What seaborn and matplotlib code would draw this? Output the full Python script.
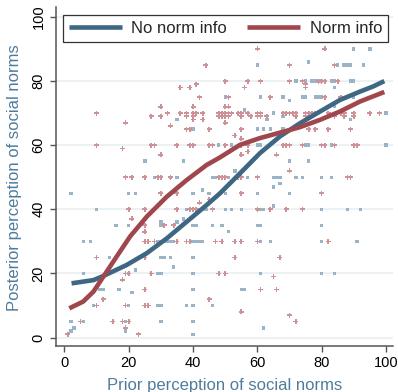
import numpy as np
import pandas as pd
import matplotlib
matplotlib.use('Agg')
import matplotlib.pyplot as plt
import seaborn as sns

# ========= Data ====================================
# individual answers, group without norm information (squares)
no_info_pts = [
    (2, 45), (20, 45), (22, 45), (10, 40), (16, 35), (20, 35), (30, 36), (30, 35),
    (6, 30), (8, 30), (29, 30), (30, 30), (31, 30), (32, 30), (33, 30),
    (14, 25), (30, 25), (31, 25), (33, 25), (22, 21), (6, 20), (20, 20), (29, 20), (30, 20),
    (11, 15), (12, 15), (17, 15), (21, 14), (9, 10), (20, 10), (29, 10), (30, 10),
    (2, 5), (6, 5), (19, 5), (30, 5), (3, 3), (2, 2), (19, 2),
    (40, 45), (43, 46), (45, 45), (50, 45), (60, 45), (65, 47),
    (38, 40), (44, 40), (50, 40), (52, 40), (55, 40), (60, 40), (61, 40), (62, 40), (65, 41),
    (35, 36), (37, 37), (40, 35), (41, 35), (46, 35), (49, 35), (60, 35), (61, 35), (51, 33),
    (34, 30), (40, 30), (41, 30), (42, 30), (43, 30), (61, 30), (64, 30),
    (40, 25), (34, 22), (40, 20), (61, 20), (40, 15), (55, 15), (56, 15),
    (38, 10), (40, 10), (46, 10), (40, 5), (62, 3), (40, 1),
    (70, 45), (80, 40), (88, 40), (92, 40), (80, 35), (80, 30), (91, 30), (80, 20), (84, 20),
    (25, 55), (37, 55), (53, 52), (28, 50), (33, 50), (35, 50), (46, 50), (47, 50), (51, 50),
    (57, 50), (65, 50), (66, 50), (67, 50), (67, 48),
    (72, 50), (74, 50), (80, 50), (83, 50), (70, 55), (76, 55),
    (48, 60), (52, 60), (60, 60), (61, 60), (75, 60), (76, 60), (83, 60), (100, 60),
    (40, 65), (60, 65), (62, 65), (64, 65), (68, 65),
    (35, 68), (63, 68), (89, 68), (68, 69), (65, 70), (56, 71), (100, 70),
    (50, 75), (61, 75), (68, 75), (74, 75), (75, 75), (78, 75), (79, 75), (80, 75), (90, 75),
    (70, 74), (84, 72), (84, 78),
    (72, 80), (75, 80), (77, 80), (78, 80), (79, 80), (80, 80), (83, 80), (84, 80), (89, 80), (90, 80),
    (60, 85), (76, 86), (85, 85), (87, 85), (88, 85), (89, 85), (93, 85), (90, 90), (95, 90),
]

# individual answers, group with norm information (small crosses)
info_pts = [
    (1, 1), (23, 1), (19, 3), (5, 5), (15, 5), (18, 5), (20, 5), (10, 10), (19, 10), (25, 10),
    (26, 10), (12, 12), (25, 15), (18, 18), (19, 20), (20, 20), (27, 20), (10, 25), (25, 25),
    (25, 30), (26, 30), (28, 30), (25, 33), (25, 35), (31, 35), (21, 37), (20, 40), (25, 40),
    (30, 45), (35, 45), (55, 45), (80, 45),
    (34, 35), (35, 40), (39, 40), (40, 40), (41, 40), (46, 40), (60, 40), (64, 40), (69, 40),
    (74, 40), (42, 42), (45, 43),
    (35, 30), (38, 30), (39, 30), (47, 30), (49, 30), (53, 30), (55, 30), (60, 30), (82, 30),
    (53, 25), (67, 25), (48, 20), (50, 20), (65, 19), (61, 15), (66, 15), (45, 12), (55, 8),
    (70, 7), (72, 5),
    (10, 70), (10, 60), (19, 67), (18, 59), (30, 72), (27, 69), (30, 69), (32, 70), (33, 66),
    (27, 60), (28, 60), (30, 57),
    (19, 50), (21, 50), (25, 50), (29, 50), (30, 50),
    (60, 90), (81, 90), (44, 85), (70, 85), (84, 85),
    (50, 80), (57, 80), (61, 80), (70, 80), (74, 80), (79, 80), (80, 80), (81, 80), (85, 80),
    (41, 79), (75, 79), (36, 78), (39, 78), (56, 78), (75, 78),
    (42, 75), (51, 75), (64, 75), (81, 75), (86, 75), (40, 72), (50, 72), (51, 72),
    (36, 70), (38, 70), (40, 70), (41, 70), (43, 70), (48, 70), (49, 70), (50, 70), (51, 70),
    (52, 70), (54, 70), (55, 70), (57, 70), (60, 70), (61, 70), (68, 70), (69, 70), (70, 70),
    (71, 70), (72, 70), (75, 70), (76, 70), (77, 70), (78, 70), (82, 70), (86, 70), (87, 70),
    (90, 70), (95, 70), (98, 70),
    (38, 69), (40, 69), (48, 69), (49, 69), (50, 69), (51, 69), (55, 69), (58, 69), (60, 69),
    (61, 69), (63, 69), (72, 69), (75, 69), (84, 69), (87, 69), (90, 69),
    (40, 68), (43, 68), (50, 67),
    (38, 65), (39, 65), (45, 65), (55, 65), (76, 65), (78, 65), (82, 65), (89, 65),
    (53, 63), (55, 62),
    (35, 60), (39, 60), (40, 60), (45, 60), (46, 60), (50, 60), (55, 60), (57, 60), (68, 60),
    (69, 60), (70, 60), (74, 60), (80, 60), (81, 60), (84, 60), (90, 60), (91, 60),
    (57, 58), (55, 57), (66, 57), (70, 52),
    (33, 50), (48, 50), (49, 50), (50, 50), (54, 50), (55, 50), (60, 50), (88, 50), (89, 50),
]

# smoothed (lowess) curves
no_info_curve_x = [2.2, 9, 12.1, 19.3, 25.6, 31.8, 38, 44.2, 48.4, 54.6, 60.8, 67, 73.2,
                   79.5, 85.7, 91.9, 96, 99.5]
no_info_curve_y = [16.9, 17.9, 19.2, 22.6, 26.3, 30.9, 36.1, 41.3, 45, 51.2, 57.5, 62.7, 66.8,
                   70.5, 74.1, 76.7, 78.3, 80]
info_curve_x = [1.5, 5.8, 9, 12.1, 16.2, 20.4, 25.6, 31.8, 38, 44.2, 48.4, 54.6, 60.8, 67,
                73.2, 79.5, 85.7, 91.9, 99.5]
info_curve_y = [9.1, 11.2, 14.3, 19, 25.2, 31.5, 37.7, 43.9, 49.1, 53.8, 56.2, 60.1, 62.2, 63.9,
                65.6, 67.9, 70.5, 73.6, 76.6]

labels = ['No norm info', 'Norm info']
x_ticks = [0, 20, 40, 60, 80, 100]
y_ticks = [0, 20, 40, 60, 80, 100]

# ========= Styles ==============
blue_line = '#3d6783'
red_line = '#a0474d'
blue_pt = '#9bb3c6'
red_pt = '#cc9298'
label_col = '#4f7c9c'

sns.set_theme(style='white')
plt.rcParams['font.family'] = ['Liberation Sans', 'DejaVu Sans']

df_a = pd.DataFrame(no_info_pts, columns=['prior', 'posterior'])
df_b = pd.DataFrame(info_pts, columns=['prior', 'posterior'])

fig = plt.figure(figsize=(3.98, 3.92), dpi=100)
ax = fig.add_axes([56 / 398, 46 / 392, 337 / 398, 339 / 392])

sns.scatterplot(data=df_a, x='prior', y='posterior', ax=ax, marker='s', s=6,
                color=blue_pt, edgecolor='none', linewidth=0, zorder=2)
sns.scatterplot(data=df_b, x='prior', y='posterior', ax=ax, marker='P', s=13,
                color=red_pt, edgecolor='none', linewidth=0, zorder=2)

sns.lineplot(x=no_info_curve_x, y=no_info_curve_y, ax=ax, color=blue_line,
             linewidth=3.3, label=labels[0], zorder=4, solid_capstyle='butt')
sns.lineplot(x=info_curve_x, y=info_curve_y, ax=ax, color=red_line,
             linewidth=3.3, label=labels[1], zorder=4, solid_capstyle='butt')

ax.set_xlim(-2.64, 102.2)
ax.set_ylim(-2.65, 103.1)
ax.set_xticks(x_ticks)
ax.set_yticks(y_ticks)
ax.set_xticklabels([str(t) for t in x_ticks], fontsize=10.5)
ax.set_yticklabels([str(t) for t in y_ticks], fontsize=10.5, rotation=90, va='center')
ax.tick_params(axis='both', direction='out', length=4, width=1, color='#555555',
               pad=3.5, labelcolor='black', bottom=True, left=True)

ax.yaxis.grid(True, color='#e7eff1', linewidth=1.1)
ax.xaxis.grid(False)
ax.set_axisbelow(True)
for side in ['top', 'right']:
    ax.spines[side].set_visible(False)
for side in ['left', 'bottom']:
    ax.spines[side].set_color('#555555')
    ax.spines[side].set_linewidth(1.1)

ax.set_xlabel('')
ax.set_ylabel('')
fig.text(224.5 / 398, 2 / 392, 'Prior perception of social norms', ha='center',
         va='baseline', fontsize=12, color=label_col)
fig.text(15 / 398, 1 - 177.5 / 392, 'Posterior perception of social norms', ha='center',
         va='center', rotation=90, fontsize=12, color=label_col)

leg = ax.legend(loc='lower left', bbox_to_anchor=(0.0208, 0.897, 0.964, 0.082),
                mode='expand', ncol=2, borderaxespad=0, fontsize=12,
                handlelength=3.2, handletextpad=0.55, frameon=True, fancybox=False,
                borderpad=0.35)
leg.get_frame().set_edgecolor('black')
leg.get_frame().set_linewidth(0.9)
leg.set_zorder(10)

plt.savefig('out.png', dpi=100, facecolor='white')
